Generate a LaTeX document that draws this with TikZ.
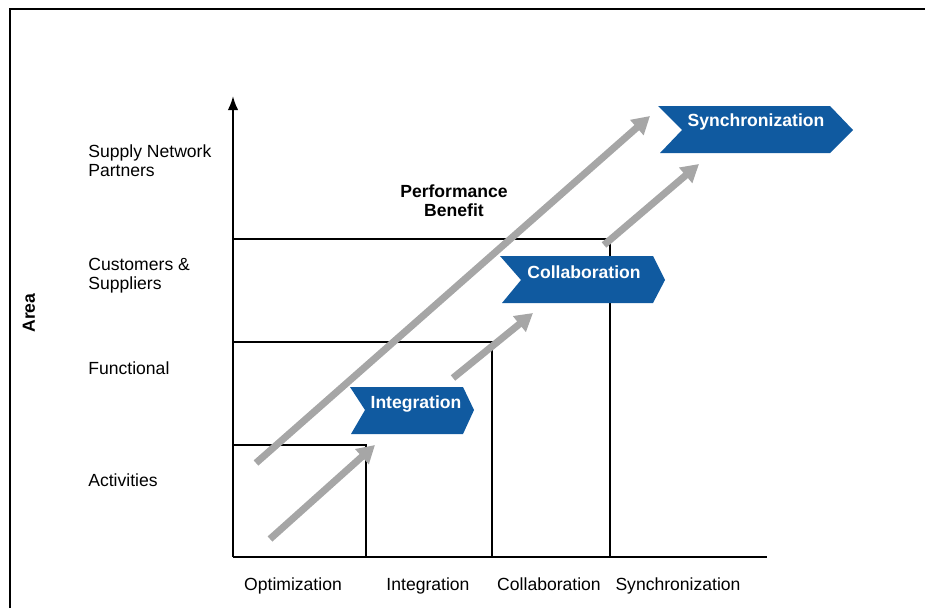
\documentclass[tikz,border=0pt]{standalone}
\usepackage{fontspec}
\setmainfont{Liberation Sans}
\usetikzlibrary{arrows.meta}
\definecolor{chevblue}{RGB}{16,90,160}
\definecolor{arrgray}{RGB}{166,166,166}
\newcommand{\ff}{\fontsize{10}{11}\selectfont}

\begin{document}
\begin{tikzpicture}[x=0.02cm,y=-0.02cm,
  lbl/.style={font=\ff,inner sep=0pt},
  chevtext/.style={font=\ff\bfseries,text=white,inner sep=0pt},
  gainarrow/.style={arrgray,line width=4pt,-{Triangle[length=10pt,width=11pt]}}]
  \useasboundingbox (0,0) rectangle (925,608);
  \draw[line width=1.2pt] (10,608) -- (10,9) -- (925,9);
  \coordinate (o) at (233,557);
  \coordinate (ytop) at (233,96);
  \coordinate (xend) at (767,557);
  \draw[line width=1.1pt,-{Latex[length=8pt,width=6pt]}] (o) -- (ytop);
  \draw[line width=1.1pt] (o) -- (xend);
  \draw[line width=0.6pt] (233,445) -- (366,445) -- (366,557);
  \draw[line width=0.6pt] (233,342) -- (492,342) -- (492,557);
  \draw[line width=0.6pt] (233,239) -- (610,239) -- (610,557);
  \fill[chevblue] (350,387) -- (463,387) -- (474,410) -- (463,434) -- (351,434) -- (365,410) -- cycle;
  \fill[chevblue] (500,256) -- (653,256) -- (665,280) -- (653,303) -- (502,303) -- (521,280) -- cycle;
  \fill[chevblue] (658,106) -- (830,106) -- (853,130) -- (830,153) -- (660,153) -- (682,130) -- cycle;
  \node[chevtext] (tint) at (416,404) {Integration};
  \node[chevtext] (tcol) at (584,272) {Collaboration};
  \node[chevtext] (tsyn) at (756,122) {Synchronization};
  \coordinate (a1s) at (270,539);
  \coordinate (a1e) at (375,445);
  \coordinate (a2s) at (453,378);
  \coordinate (a2e) at (533,313);
  \coordinate (a3s) at (604,245);
  \coordinate (a3e) at (699,164);
  \coordinate (a4s) at (256,463);
  \coordinate (a4e) at (650,116);
  \draw[gainarrow] (a1s) -- (a1e);
  \draw[gainarrow] (a2s) -- (a2e);
  \draw[gainarrow] (a3s) -- (a3e);
  \draw[gainarrow] (a4s) -- (a4e);
  \node[lbl,font=\ff\bfseries,align=center] (perf) at (454,201) {Performance\\Benefit};
  \node[lbl,font=\ff\bfseries,rotate=90] (area) at (29,313) {Area};
  \node[lbl,anchor=west,align=left] (snp) at (88,161) {Supply Network\\Partners};
  \node[lbl,anchor=west,align=left] (cs) at (88,276) {Customers \&\\Suppliers};
  \node[lbl,anchor=west] (fun) at (88,368) {Functional};
  \node[lbl,anchor=west] (act) at (88,480) {Activities};
  \node[lbl,anchor=base] (xopt) at (293,590) {Optimization};
  \node[lbl,anchor=base] (xint) at (428,590) {Integration};
  \node[lbl,anchor=base] (xcol) at (549,590) {Collaboration};
  \node[lbl,anchor=base] (xsyn) at (678,590) {Synchronization};
\end{tikzpicture}
\end{document}
